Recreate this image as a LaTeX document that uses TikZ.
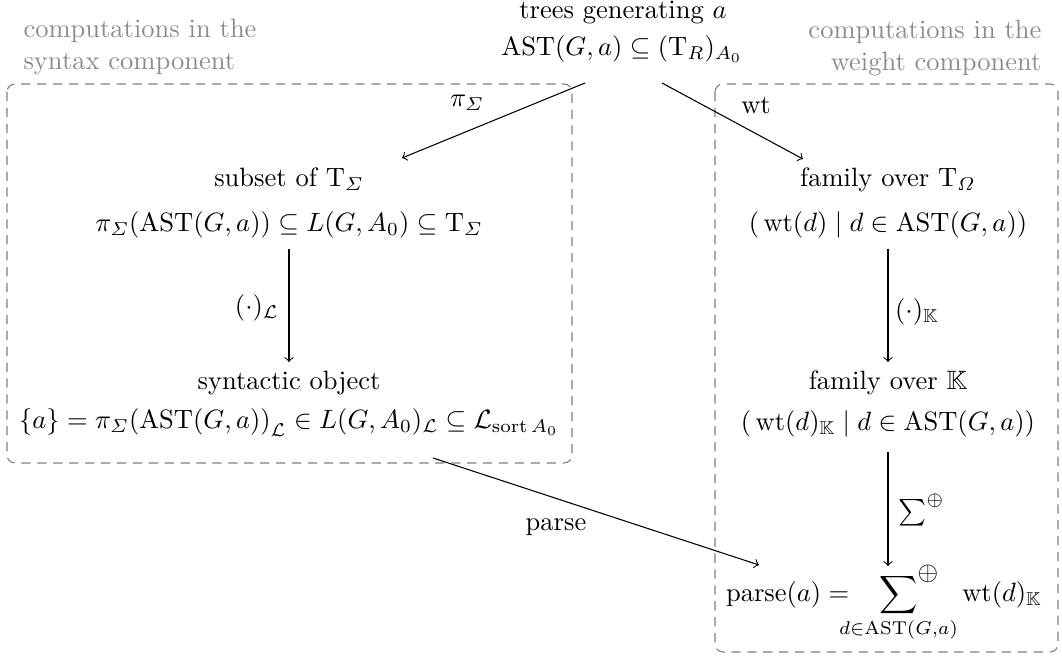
\documentclass[tikz,border=0pt]{standalone}
\usepackage{amsmath,amssymb}
\usetikzlibrary{calc}
\newcommand{\KK}{\mathbb{K}}
\begin{document}
\begin{tikzpicture}[x=0.377pt,y=-0.377pt,
  every node/.style={inner sep=0pt},
  box/.style={draw=black!50, dash pattern=on 3.5pt off 2.5pt, rounded corners=3pt, line width=0.4pt},
  note/.style={text=black!45},
  arr/.style={->, line width=0.4pt}]
\useasboundingbox (0,0) rectangle (1062,657);

% component boxes
\draw[box] (7,84) rectangle (572,463);
\draw[box] (715,84) rectangle (1058,652);

% gray notes
\node[note, align=left, anchor=west] (nl) at (23,47) {computations in the\\syntax component};
\node[note, align=right, anchor=east] (nr) at (1042,48) {computations in the\\weight component};

% top
\node[anchor=base] (t1) at (623,19) {trees generating $a$};
\node[anchor=base] (ast) at (622,56) {$\mathrm{AST}(G,a)\subseteq(\mathrm{T}_R)_{A_0}$};

% left column
\node[anchor=base] (sub1) at (289,187) {subset of $\mathrm{T}_{\varSigma}$};
\node[anchor=base] (sub2) at (289,232) {$\pi_{\varSigma}(\mathrm{AST}(G,a))\subseteq L(G,A_0)\subseteq\mathrm{T}_{\varSigma}$};
\node[anchor=base] (syn1) at (289,390) {syntactic object};
\node[anchor=base] (syn2) at (289,429) {$\{a\} = {\pi_{\varSigma}(\mathrm{AST}(G,a))}_{\mathcal{L}}\in L(G,A_0)_{\mathcal{L}}\subseteq\mathcal{L}_{\mathrm{sort}\,A_0}$};

% right column
\node[anchor=base] (fam1) at (888,187) {family over $\mathrm{T}_{\varOmega}$};
\node[anchor=base] (fam2) at (888,232) {$(\,\mathrm{wt}(d)\mid d\in\mathrm{AST}(G,a))$};
\node[anchor=base] (fam3) at (888,390) {family over $\KK$};
\node[anchor=base] (fam4) at (888,431) {$(\,\mathrm{wt}(d)_{\KK}\mid d\in\mathrm{AST}(G,a))$};
\node[anchor=base] (res) at (884,602) {$\displaystyle\mathrm{parse}(a)=\sideset{}{^{\textstyle\oplus}}\sum_{d\in\mathrm{AST}(G,a)}\mathrm{wt}(d)_{\KK}$};

% connectors
\draw[arr] ($(ast.base)+(-37,27)$) -- ($(sub1.base)+(113,-29)$);
\draw[arr] ($(ast.base)+(40,27)$) -- ($(fam1.base)+(-85,-28)$);
\draw[arr] ($(sub2.base)+(0,17)$) -- ($(syn1.base)+(0,-28)$);
\draw[arr] ($(fam2.base)+(0,17)$) -- ($(fam3.base)+(0,-28)$);
\draw[arr] ($(fam4.base)+(0,21)$) -- ($(res.base)+(4,-36)$);
\draw[arr] ($(syn2.base)+(144,29)$) -- ($(res.base)+(-125,-37)$);

% connector labels
\node (lpi) at (467,103) {$\pi_{\varSigma}$};
\node (lwt) at (756,105) {$\mathrm{wt}$};
\node (lL) at (257,308) {$(\cdot)_{\mathcal{L}}$};
\node (lK) at (917,312) {$(\cdot)_{\KK}$};
\node[anchor=west] (lS) at (898,510) {$\sum^{\oplus}$};
\node (lp) at (556,527) {parse};
\end{tikzpicture}
\end{document}
